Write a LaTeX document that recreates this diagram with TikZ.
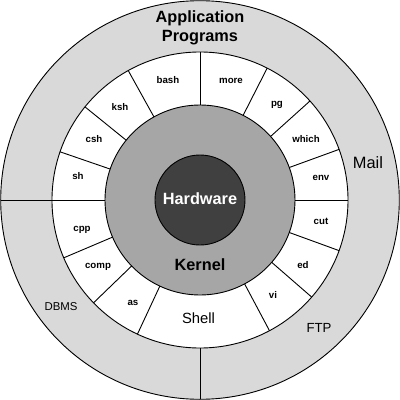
\documentclass[tikz,border=0pt]{standalone}
\usepackage{fontspec}
\setmainfont{Liberation Sans}
\definecolor{outerg}{HTML}{D9D9D9}
\definecolor{kerng}{HTML}{A6A6A6}
\definecolor{hardg}{HTML}{404040}
\tikzset{
  ringline/.style={draw=black, line width=0.9pt},
  cmd/.style={font=\fontsize{9.7}{11}\selectfont\bfseries, inner sep=0pt, text height=1.4ex, text depth=0.3ex},
  big/.style={font=\fontsize{16.3}{19}\selectfont\bfseries, inner sep=0pt, align=center},
  app/.style={inner sep=0pt},
}
\begin{document}
\begin{tikzpicture}[x=1pt,y=1pt]
\useasboundingbox (-200,-200) rectangle (200,200);
\fill[white] (-200,-200) rectangle (200,200);
% rings
\filldraw[ringline, fill=outerg] (0,0) circle (199.3);
\filldraw[ringline, fill=white] (0,0) circle (148);
\filldraw[ringline, fill=kerng] (0,0) circle (95);
\filldraw[ringline, fill=hardg] (0,0) circle (45);
% shell ring dividers
\foreach \a in {161,141,119,90,63,42,20,0,-20,-41,-62,-115,-136,-157,180}
  \draw[ringline] (\a:95) -- (\a:148);
% outer ring dividers
\foreach \a in {180,270}
  \draw[ringline] (\a:148) -- (\a:199.3);
% labels
\node[big] (appl) at (0,172.5) {Application\\Programs};
\node[big, text=white] (hw) at (0,1) {Hardware};
\node[big] (kern) at (0,-65) {Kernel};
\node[app, font=\fontsize{16.4}{18}\selectfont] (mail) at (168,37) {Mail};
\node[app, font=\fontsize{11.4}{13}\selectfont] (dbms) at (-139,-107) {DBMS};
\node[app, font=\fontsize{13.2}{15}\selectfont] (ftp) at (119,-128) {FTP};
\node[app, font=\fontsize{14.8}{17}\selectfont] (shell) at (-1.5,-118) {Shell};
\node[cmd] (bash) at (-32,119) {bash};
\node[cmd] (ksh) at (-80,92) {ksh};
\node[cmd] (csh) at (-106,60) {csh};
\node[cmd] (sh) at (-122,23) {sh};
\node[cmd] (more) at (31,119) {more};
\node[cmd] (pg) at (77,96) {pg};
\node[cmd] (which) at (106,60) {which};
\node[cmd] (env) at (121,22) {env};
\node[cmd] (cut) at (121,-22) {cut};
\node[cmd] (ed) at (103,-66) {ed};
\node[cmd] (vi) at (73,-96) {vi};
\node[cmd] (as) at (-67,-103) {as};
\node[cmd] (comp) at (-102,-66) {comp};
\node[cmd] (cpp) at (-118,-29) {cpp};
\end{tikzpicture}
\end{document}
